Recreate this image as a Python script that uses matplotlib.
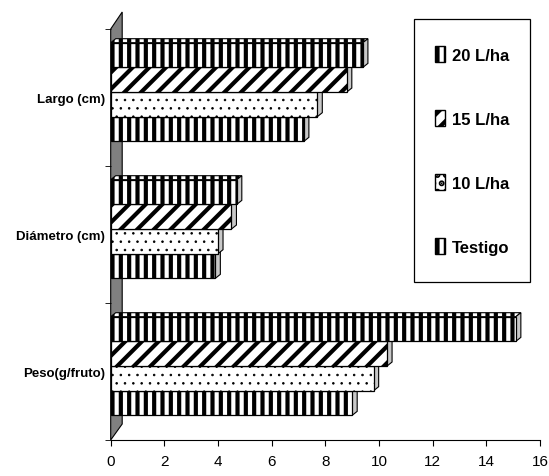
import matplotlib
matplotlib.use('Agg')
import matplotlib.pyplot as plt
from matplotlib.patches import Polygon, Patch, Rectangle
import numpy as np

categories = ['Peso(g/fruto)', 'Diámetro (cm)', 'Largo (cm)']
series = ['Testigo', '10 L/ha', '15 L/ha', '20 L/ha']
testigo = [9.0, 3.9, 7.2]
l10 = [9.8, 4.0, 7.7]
l15 = [10.3, 4.5, 8.8]
l20 = [15.1, 4.7, 9.4]
values = [testigo, l10, l15, l20]
hatches = ['||', '..', '//', '||']
xticks = [0, 2, 4, 6, 8, 10, 12, 14, 16]

plt.rcParams['font.family'] = ['Liberation Sans Narrow', 'Liberation Sans', 'DejaVu Sans']
plt.rcParams['hatch.linewidth'] = 3.0

W, H = 549, 477
fig = plt.figure(figsize=(W / 100, H / 100), dpi=100)
left, right, bottom, top = 110.7 / W, 540 / W, 1 - 441 / H, 1 - 30 / H
ax = fig.add_axes([left, bottom, right - left, top - bottom])
ax.set_xlim(0, 16)
ax.set_ylim(-0.5, 2.5)

ax_w = (right - left) * W
ax_h = (top - bottom) * H
ddx = 5 / (ax_w / 16)
ddy = 4 / (ax_h / 3)


def hlw(p, hatch):
    if hasattr(p, 'set_hatch_linewidth'):
        p.set_hatch_linewidth(0.6 if '.' in hatch else 3.0)


# grey wall on the left
wx = 11.5 / ax_w
wall = Polygon([(0, 0), (0, 1), (wx, 1 + 17 / ax_h), (wx, 16 / ax_h)],
               closed=True, transform=ax.transAxes, clip_on=False,
               facecolor='#808080', edgecolor='black', lw=0.8, zorder=1)
ax.add_patch(wall)

bh = 0.18
y = np.arange(len(categories))
for i, (vals, hatch) in enumerate(zip(values, hatches)):
    off = (i - 1.5) * bh + 0.04
    bars = ax.barh(y + off, vals, height=bh, color='white', edgecolor='black',
                   hatch=hatch, lw=0.9, zorder=3 + i * 0.1)
    for r in bars.patches:
        hlw(r, hatch)
        x0, y0, w, h = r.get_x(), r.get_y(), r.get_width(), r.get_height()
        topf = Polygon([(x0, y0 + h), (x0 + w, y0 + h), (x0 + w + ddx, y0 + h + ddy),
                        (x0 + ddx, y0 + h + ddy)], closed=True, facecolor='white',
                       edgecolor='black', hatch=hatch, lw=0.8, zorder=2.5 + i * 0.1)
        hlw(topf, hatch)
        side = Polygon([(x0 + w, y0), (x0 + w + ddx, y0 + ddy), (x0 + w + ddx, y0 + h + ddy),
                        (x0 + w, y0 + h)], closed=True, facecolor='#c8c8c8',
                       edgecolor='black', lw=0.8, zorder=2.5 + i * 0.1)
        ax.add_patch(topf)
        ax.add_patch(side)

ax.set_yticks(y)
ax.set_yticklabels(categories, fontsize=9.5, fontweight='bold')
ax.set_yticks(np.arange(-0.5, 3, 1), minor=True)
ax.tick_params(axis='y', which='major', length=0, pad=4)
ax.tick_params(axis='y', which='minor', length=4, direction='out')
ax.set_xticks(xticks)
ax.set_xticklabels([str(t) for t in xticks], fontsize=11)
ax.tick_params(axis='x', length=4, direction='out', pad=6)
for s in ['top', 'right', 'left']:
    ax.spines[s].set_visible(False)
ax.spines['bottom'].set_linewidth(0.8)

# legend box frame drawn separately so its padding can differ per side
bx0, by0, bx1, by1 = 414, 20, 530, 283
frame = Rectangle((bx0 / W, 1 - by1 / H), (bx1 - bx0) / W, (by1 - by0) / H,
                  transform=fig.transFigure, facecolor='white', edgecolor='black',
                  lw=0.9, zorder=5, clip_on=False)
ax.add_artist(frame)

handles = [Patch(facecolor='white', edgecolor='black', hatch=h) for h in hatches]
for hd, h in zip(handles, hatches):
    hlw(hd, h)
leg = ax.legend(handles[::-1], series[::-1], loc='center',
                bbox_to_anchor=((bx0 + bx1) / 2 / W, 1 - (by0 + by1) / 2 / H),
                bbox_transform=fig.transFigure, borderaxespad=0,
                prop={'size': 12, 'weight': 'bold'}, frameon=False,
                handlelength=0.6, handleheight=1.1,
                handletextpad=0.4, labelspacing=2.85, borderpad=0)
leg.set_zorder(6)

fig.savefig('out.png', dpi=100)
